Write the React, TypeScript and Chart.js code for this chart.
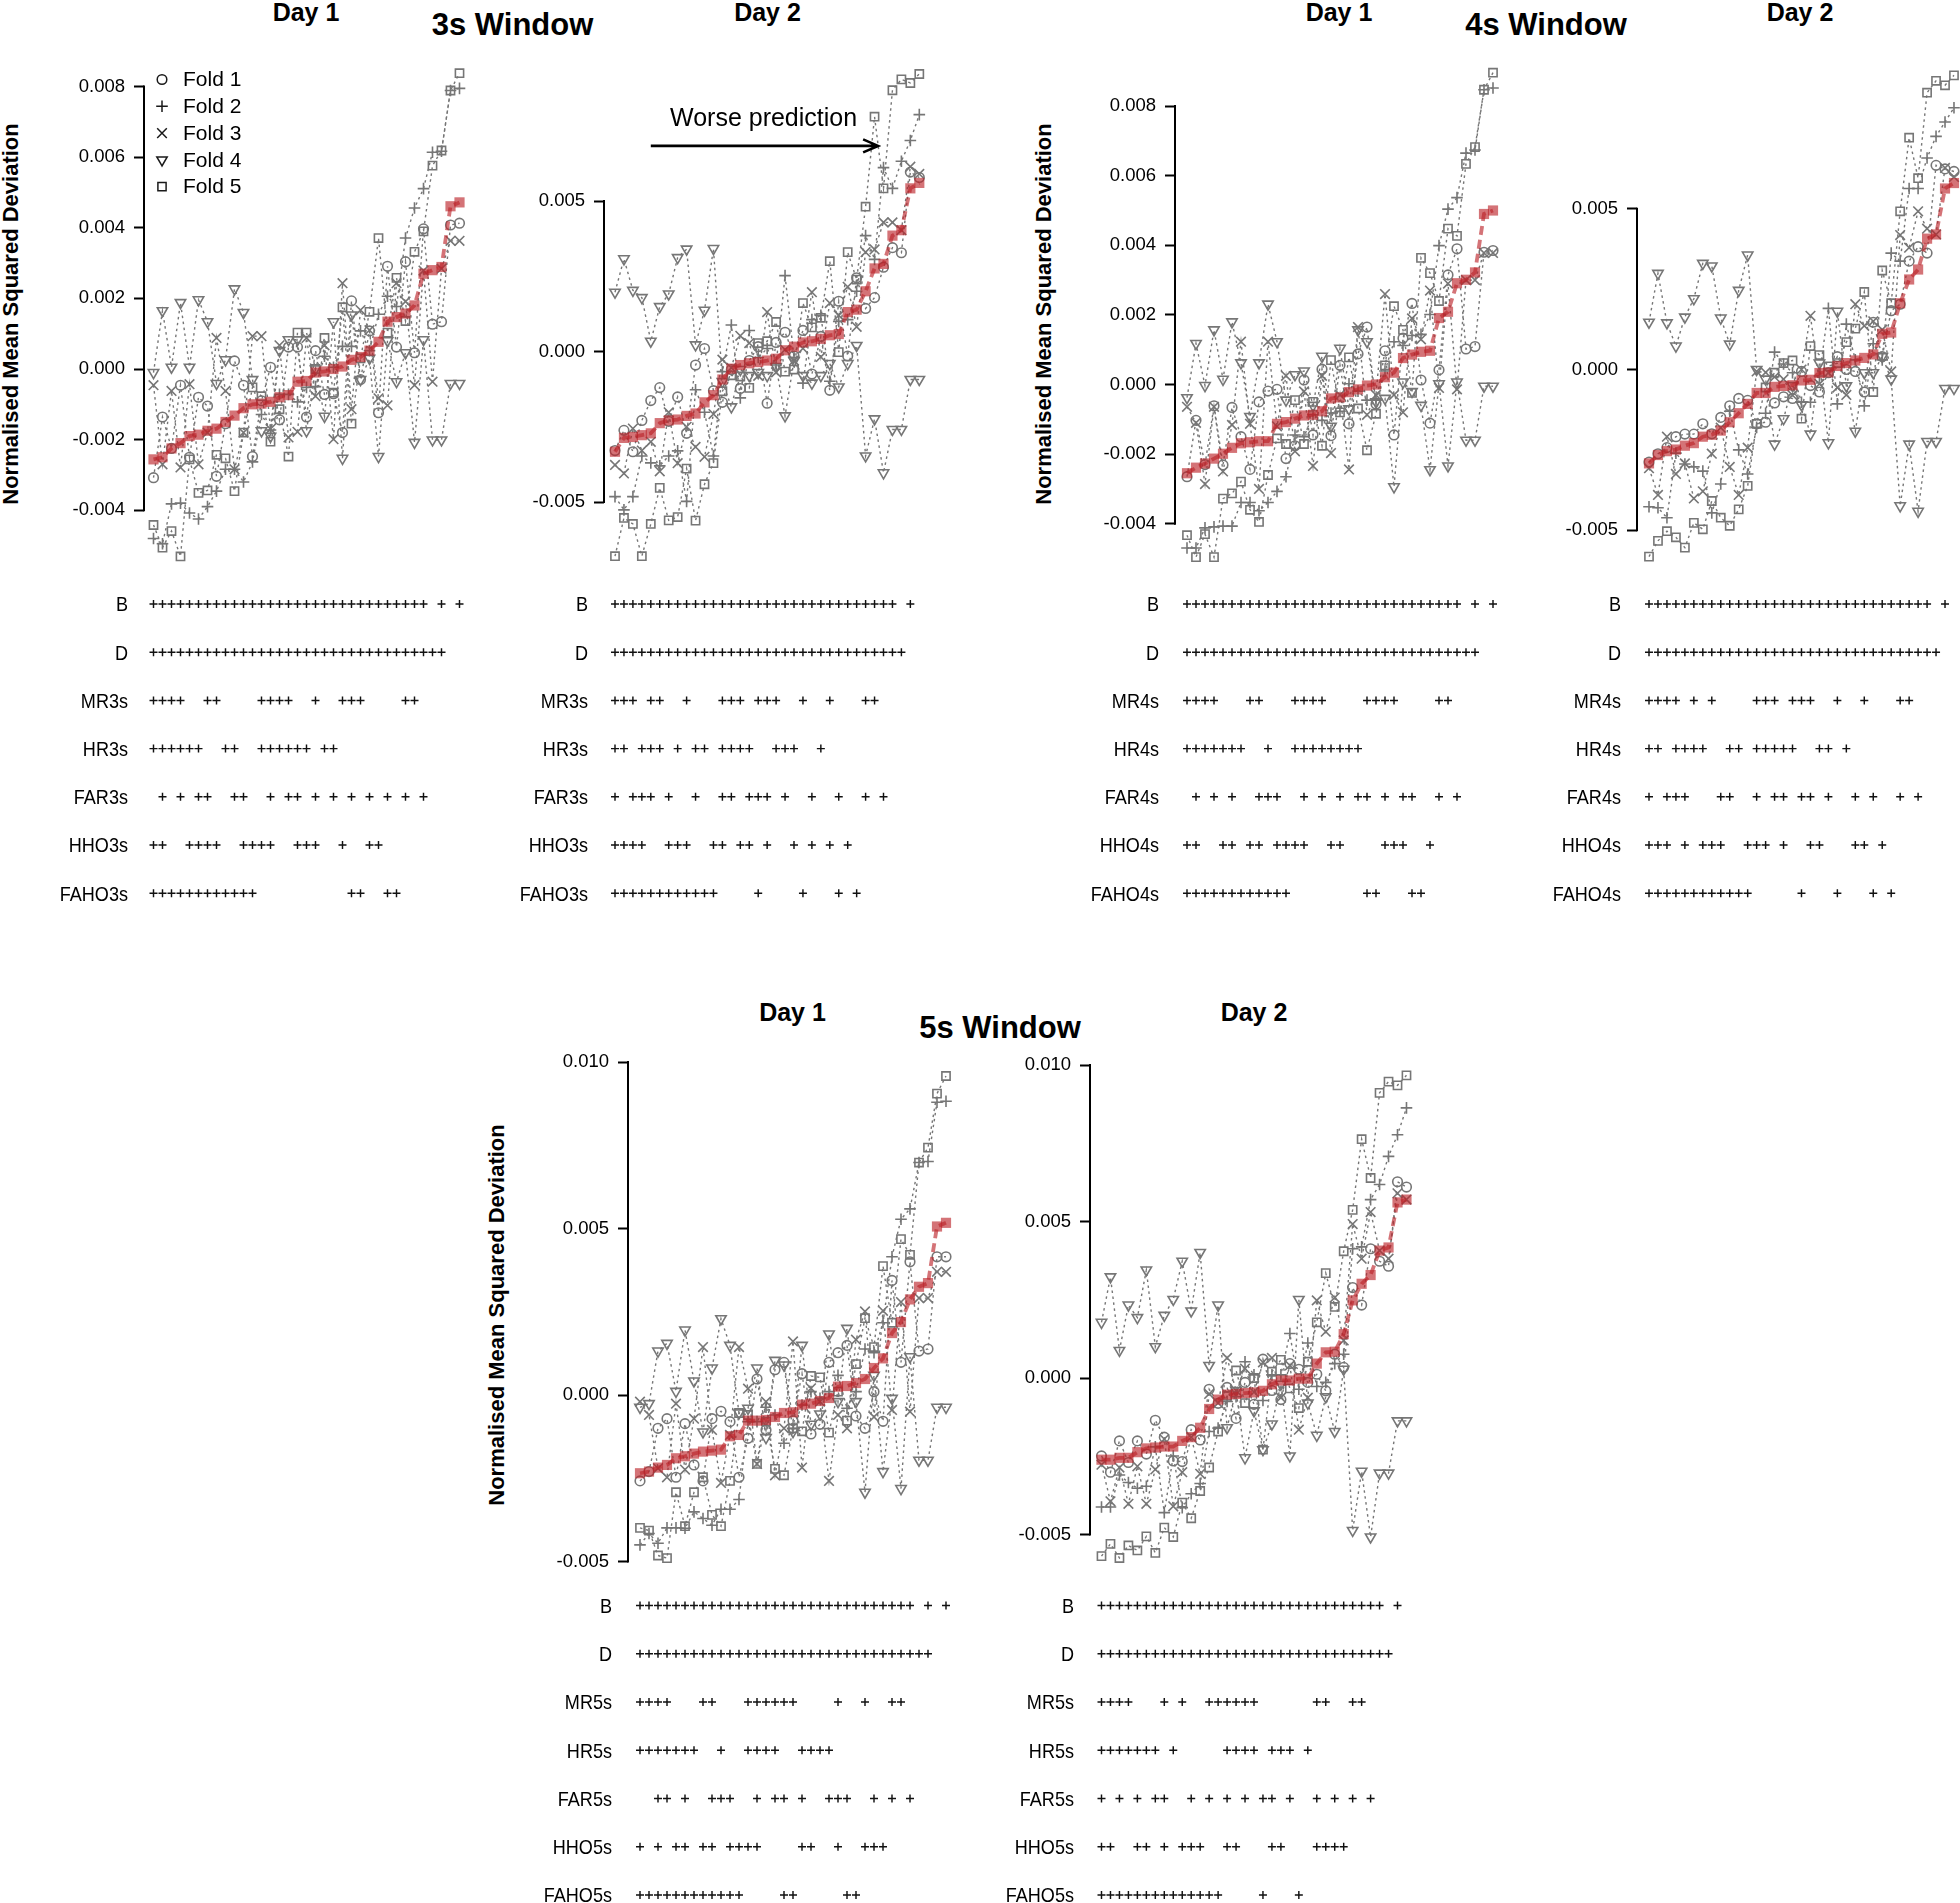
import React, { useEffect, useRef } from "react";
import { Chart, registerables } from "chart.js";
import { drawPoint } from "chart.js/helpers";

Chart.register(...registerables);

const FONT = '"Liberation Sans", Arial, Helvetica, sans-serif';
const GREY = "#767676";
const RED = "rgba(188, 36, 42, 0.64)";
const YW = 130;

// ---------------- x positions (model rank 0..34) ----------------
const MODEL_RANK = [0,1,2,3,4,5,6,7,8,9,10,11,12,13,14,15,16,17,18,19,20,21,22,23,24,25,26,27,28,29,30,31,32,33,34];
const FOLD_LABELS = ["Fold 1", "Fold 2", "Fold 3", "Fold 4", "Fold 5"];

// ---------------- 3s window, Day 1 ----------------
const W3D1_MEAN = [-0.00256,-0.0025,-0.00225,-0.0021,-0.0019,-0.00186,-0.00175,-0.00169,-0.0015,-0.00132,-0.00111,-0.001,-0.00098,-0.00093,-0.0008,-0.00074,-0.00036,-0.00034,-0.0001,-0.00007,0.0,0.00007,0.00026,0.00034,0.00052,0.00077,0.00134,0.00147,0.00157,0.0018,0.0027,0.0028,0.00289,0.00461,0.00472];
const W3D1_F1 = [-0.00308,-0.00136,-0.00225,-0.00046,-0.0025,-0.0008,-0.00105,-0.00304,-0.00155,0.00023,-0.00046,-0.00248,-0.0009,0.00005,-0.00144,0.00062,0.00062,-0.00136,0.00052,-0.00072,-0.0007,-0.0018,0.00193,-0.0003,0.00108,-0.00124,0.00291,0.00062,0.00304,0.00046,0.00397,0.00127,0.00134,0.00408,0.00413];
const W3D1_F2 = [-0.0048,-0.00495,-0.00382,-0.0038,-0.00408,-0.00425,-0.0039,-0.00346,-0.00284,-0.00284,-0.0032,-0.00263,-0.00129,-0.00173,-0.00072,-0.00072,-0.00093,-0.00052,-0.0005,0.00036,0.00005,0.00064,0.00064,0.00108,0.00052,0.00155,0.00206,0.00177,0.00371,0.00456,0.00511,0.00614,0.00617,0.00789,0.00795];
const W3D1_F3 = [-0.00046,-0.0027,-0.00062,-0.00279,-0.00043,-0.0027,-0.0018,0.00088,-0.00062,-0.00284,-0.0018,0.00093,0.00093,-0.0017,0.00067,-0.00194,-0.00178,0.00088,-0.00077,0.00067,-0.00199,0.00243,-0.00114,0.00167,0.0011,-0.00083,-0.00103,0.00243,0.00191,-0.00046,0.00279,-0.00036,0.00284,0.00363,0.00363];
const W3D1_F4 = [-0.0001,0.00165,0.00005,0.00188,0.00005,0.00196,0.00134,-0.00041,0.00026,0.00227,0.0016,-0.0003,-0.00175,-0.00191,0.00052,0.00083,0.00083,-0.00175,0.0,-0.00134,0.00134,-0.00253,0.00153,-0.0003,0.0003,-0.00248,0.0008,-0.00036,0.00046,-0.00208,0.00083,-0.00201,-0.00201,-0.00041,-0.00041];
const W3D1_F5 = [-0.00442,-0.00506,-0.00459,-0.00531,-0.00256,-0.00351,-0.00344,-0.00243,-0.00253,-0.00346,-0.0018,-0.00052,-0.00077,-0.00206,-0.00114,-0.00248,0.00103,0.00103,0.0,0.00088,-0.00067,0.00175,-0.00155,0.0003,0.00162,0.00371,0.00103,0.00258,0.00136,0.00332,0.0039,0.00576,0.00619,0.00789,0.00838];

// ---------------- 3s window, Day 2 ----------------
const W3D2_MEAN = [-0.00333,-0.00287,-0.00284,-0.00278,-0.00272,-0.00238,-0.00229,-0.00226,-0.00214,-0.00206,-0.00169,-0.00145,-0.00093,-0.00057,-0.00045,-0.00039,-0.00035,-0.0003,-0.00024,0.00004,0.00016,0.0003,0.00034,0.00042,0.00054,0.00058,0.00131,0.00139,0.002,0.00276,0.00291,0.00385,0.00403,0.00542,0.0056];
const W3D2_F1 = [-0.00329,-0.00262,-0.00333,-0.00229,-0.00163,-0.0012,-0.00232,-0.00151,-0.00272,-0.00045,0.0001,-0.0013,-0.00169,-0.0006,-0.00123,-0.0003,0.00016,-0.00172,0.0003,0.00064,-0.00015,0.0007,-0.00075,0.0005,-0.00129,0.00167,-0.00015,0.00245,0.00143,0.00179,0.0028,0.00345,0.00328,0.00596,0.00578];
const W3D2_F2 = [-0.00482,-0.00526,-0.00482,-0.00347,-0.0037,-0.0038,-0.00347,-0.0033,-0.00498,-0.00127,-0.00202,-0.00347,-0.00067,0.00088,-0.00154,0.0007,-0.0002,0.0001,-0.00045,0.00252,-0.0002,-0.00105,0.00106,0.0012,-0.00099,0.001,0.00106,0.002,0.00385,0.00306,0.00611,0.00542,0.00632,0.00701,0.00787];
const W3D2_F3 = [-0.00377,-0.00405,-0.00256,-0.00329,-0.003,-0.00398,-0.00202,-0.00371,-0.0025,-0.00317,-0.0035,-0.00208,-0.00027,-0.00054,0.00052,0.00028,-0.00081,0.00131,-0.00069,0.00006,-0.0003,0.0001,0.00197,-0.00018,0.00161,0.0012,0.00215,0.00082,0.0033,0.00339,0.00429,0.00429,0.00403,0.00614,0.0059];
const W3D2_F4 = [0.00197,0.00308,0.00203,0.00179,0.00034,0.00149,0.00191,0.00312,0.0034,0.00022,0.00137,0.00342,-0.001,-0.00184,-0.0006,-0.0008,-0.0007,-0.0008,-0.0005,-0.00214,-0.0003,-0.0008,-0.00105,-0.0008,-0.0004,-0.00118,-0.0004,0.0002,-0.00347,-0.00224,-0.00403,-0.00259,-0.00259,-0.00093,-0.00093];
const W3D2_F5 = [-0.0068,-0.00553,-0.00573,-0.0068,-0.00573,-0.00453,-0.00561,-0.0055,-0.00389,-0.00562,-0.00441,-0.00371,-0.00132,-0.00079,-0.00083,-0.00121,0.00028,0.00034,0.00098,-0.00067,-0.0006,0.00161,0.0008,0.00112,0.003,-0.00002,0.0033,0.00239,0.00481,0.0078,0.00542,0.00868,0.00904,0.00892,0.00922];

// ---------------- 4s window, Day 1 ----------------
const W4D1_MEAN = [-0.00255,-0.00239,-0.00227,-0.00213,-0.00199,-0.00182,-0.00169,-0.00166,-0.00163,-0.00163,-0.00113,-0.00108,-0.00098,-0.00089,-0.00087,-0.00077,-0.0004,-0.00037,-0.00022,-0.00014,-0.00003,0.0,0.00021,0.00034,0.00076,0.00086,0.00094,0.00097,0.00191,0.00209,0.00291,0.00301,0.00322,0.0049,0.005];
const W4D1_F1 = [-0.00265,-0.00103,-0.0023,-0.00061,-0.00231,-0.00066,-0.0015,-0.00244,-0.0005,-0.00019,-0.00014,-0.00213,-0.00176,0.00013,-0.00145,0.00044,-0.00147,0.00055,-0.00113,0.00088,0.00165,-0.00056,0.00097,-0.00145,0.00133,0.00233,0.00013,-0.00111,0.00042,0.00315,0.0039,0.00102,0.00109,0.0038,0.00385];
const W4D1_F2 = [-0.0047,-0.0047,-0.00412,-0.00409,-0.00407,-0.00407,-0.00339,-0.00339,-0.00363,-0.00339,-0.00307,-0.00265,-0.00145,-0.0015,-0.00087,-0.00103,-0.00082,-0.00077,0.00002,-0.00019,-0.00045,-0.00045,0.00039,0.00123,0.00112,0.00141,0.00144,0.00201,0.00399,0.00504,0.00537,0.00665,0.00674,0.00847,0.00852];
const W4D1_F3 = [-0.00064,-0.0011,-0.00286,-0.00064,-0.0025,-0.00116,0.00123,-0.00113,-0.003,0.00123,-0.0012,0.00025,-0.00192,-0.0002,-0.00234,0.00025,-0.00197,-0.0003,-0.00244,0.00165,-0.00087,-0.0003,0.0026,-0.0003,-0.0008,0.0019,0.0013,0.0027,-0.0001,0.0029,-0.00014,0.003,0.003,0.00378,0.00378];
const W4D1_F4 = [-0.00038,0.00118,-0.00003,0.00157,0.00015,0.0018,0.00062,-0.00092,0.00062,0.00231,0.00123,-0.00045,0.00028,0.00039,-0.0006,0.00081,-0.0012,0.00104,-0.0007,0.00157,0.00123,-0.0005,-0.0004,-0.00294,0.00007,-0.0002,-0.0006,-0.00245,0.00002,-0.00234,0.00007,-0.0016,-0.0016,-0.00005,-0.00005];
const W4D1_F5 = [-0.00433,-0.00496,-0.0043,-0.00496,-0.00328,-0.00313,-0.00279,-0.0036,-0.00395,-0.0026,-0.00155,-0.00171,-0.00045,-0.00171,-0.0005,-0.00176,0.0007,-0.0008,0.00078,-0.00069,-0.00189,-0.00084,0.00055,0.00225,0.00157,-0.00024,0.00364,0.0032,0.0024,0.00448,0.00427,0.00634,0.00682,0.00847,0.00896];

// ---------------- 4s window, Day 2 ----------------
const W4D2_MEAN = [-0.00292,-0.00266,-0.00254,-0.00249,-0.00237,-0.00229,-0.00209,-0.00203,-0.0019,-0.00164,-0.00136,-0.00107,-0.00073,-0.00073,-0.00054,-0.00051,-0.00049,-0.00034,-0.00032,-0.00011,-0.00009,0.00011,0.0002,0.00028,0.00036,0.00047,0.00111,0.00115,0.00206,0.0028,0.00311,0.00407,0.0042,0.00563,0.0058];
const W4D2_F1 = [-0.00288,-0.00262,-0.00243,-0.00209,-0.00201,-0.00201,-0.00169,-0.002,-0.00149,-0.00113,-0.0009,-0.00096,-0.00169,-0.00164,-0.00104,-0.00085,-0.0009,-0.00006,-0.0005,-0.0007,-0.0001,0.0004,0.0,-0.00006,-0.0007,0.00147,0.0004,0.00183,0.00203,0.00337,0.00382,0.00362,0.00635,0.00624,0.00616];
const W4D2_F2 = [-0.00427,-0.0043,-0.00461,-0.0026,-0.00294,-0.00303,-0.00316,-0.00446,-0.00356,-0.0013,-0.0025,-0.00325,-0.0018,-0.00136,0.00054,0.00017,-0.0001,-0.00102,-0.00102,-0.0002,0.0019,-0.00107,0.00141,0.0003,-0.00113,0.0008,0.0003,0.00362,0.00337,0.00563,0.00563,0.00658,0.00725,0.0077,0.00814];
const W4D2_F3 = [-0.00307,-0.0039,-0.00209,-0.00325,-0.00292,-0.00401,-0.00379,-0.00262,-0.00181,-0.00303,-0.0039,-0.00243,-0.00006,-0.00009,-0.00023,-0.0003,-0.0008,0.0,0.00167,-0.00045,-0.0001,-0.00056,-0.00079,0.00203,0.00136,0.0015,0.00124,-0.00006,0.00418,0.00379,0.00492,0.00438,0.0042,0.00627,0.00599];
const W4D2_F4 = [0.00147,0.00299,0.00145,0.00073,0.00163,0.0022,0.0033,0.00322,0.0016,0.00079,0.00246,0.00356,0.0,-0.0003,-0.00232,-0.00153,-0.0005,-0.0011,-0.00201,0.0002,-0.00228,0.00181,-0.00051,-0.00192,-0.0001,-0.0001,0.0004,-0.0003,-0.00424,-0.00232,-0.00441,-0.00224,-0.00224,-0.00059,-0.00059];
const W4D2_F5 = [-0.00582,-0.00533,-0.00503,-0.00522,-0.00554,-0.00477,-0.00497,-0.00409,-0.00461,-0.00486,-0.00435,-0.00362,-0.00169,-0.00056,-0.0001,0.0002,0.00028,-0.00153,0.00073,0.00045,0.0001,0.0002,0.00085,0.00127,0.00241,-0.0007,0.00308,0.00206,0.00492,0.00721,0.00595,0.00861,0.00898,0.00884,0.00915];

// ---------------- 5s window, Day 1 ----------------
const W5D1_MEAN = [-0.00235,-0.0023,-0.00218,-0.0021,-0.0019,-0.00184,-0.00176,-0.0017,-0.00167,-0.00164,-0.00124,-0.0012,-0.00077,-0.00077,-0.00075,-0.00066,-0.00054,-0.00052,-0.00029,-0.00026,-0.00018,-0.00009,0.00025,0.00027,0.00036,0.00048,0.00081,0.0011,0.00186,0.00219,0.00287,0.00325,0.00336,0.00506,0.00517];
const W5D1_F1 = [-0.00258,-0.0023,-0.001,-0.00071,-0.00247,-0.00086,-0.0021,-0.00258,-0.00071,-0.00049,-0.0008,-0.00247,-0.0013,0.00048,-0.00105,0.00076,0.00098,-0.00077,0.00064,-0.00117,-0.00088,0.00098,0.00127,0.00149,-0.00063,-0.001,0.0001,-0.00079,0.00344,0.00098,0.004,0.00132,0.00138,0.00415,0.00415];
const W5D1_F2 = [-0.0045,-0.00416,-0.00445,-0.00399,-0.00399,-0.004,-0.00351,-0.00371,-0.00391,-0.00343,-0.00343,-0.00314,-0.0008,-0.0008,-0.00037,-0.0006,-0.00145,-0.001,-0.0003,0.0001,-0.0001,0.0001,0.00059,-0.0004,0.0001,0.00138,0.00127,0.00217,0.00415,0.00528,0.00559,0.00698,0.00701,0.00879,0.00882];
const W5D1_F3 = [-0.0002,-0.0006,-0.0022,-0.00247,-0.00026,-0.00224,-0.00071,0.00144,-0.00105,-0.00264,-0.0012,0.00144,0.00019,-0.00207,-0.0002,-0.00241,-0.001,0.00161,-0.00218,0.0002,-0.0002,-0.00258,-0.0006,-0.001,0.00166,0.00251,-0.00066,0.00253,-0.00045,0.00279,-0.0005,0.00291,0.00291,0.0037,0.0037];
const W5D1_F4 = [-0.00037,-0.00026,0.00132,0.00155,0.00011,0.00195,0.00042,-0.00111,0.00081,0.00229,0.00149,-0.00054,-0.0004,0.00081,-0.00128,0.00104,0.0009,-0.0011,0.00149,-0.00088,-0.00057,0.00183,-0.0002,0.002,-0.0002,-0.00292,0.00059,-0.0023,-0.0001,-0.00281,0.00115,-0.00196,-0.00196,-0.00037,-0.00037];
const W5D1_F5 = [-0.00399,-0.00407,-0.00482,-0.0049,-0.00292,-0.00394,-0.00292,-0.00247,-0.0036,-0.00394,-0.00258,-0.00054,-0.0006,-0.00207,-0.0008,-0.00222,-0.00241,-0.001,-0.00109,0.00057,0.00053,-0.00113,0.0001,-0.00077,0.00093,0.00231,0.00144,0.00387,0.00217,0.00468,0.00421,0.00698,0.00743,0.00905,0.00958];

// ---------------- 5s window, Day 2 ----------------
const W5D2_MEAN = [-0.00261,-0.00261,-0.00255,-0.00255,-0.00237,-0.00225,-0.00222,-0.00219,-0.00219,-0.00201,-0.00189,-0.00159,-0.00099,-0.00069,-0.00053,-0.00051,-0.00048,-0.00046,-0.00041,-0.0002,-0.00008,-0.00008,-0.00002,-0.00002,0.00046,0.00082,0.00084,0.0014,0.00248,0.00301,0.00329,0.00407,0.00417,0.00561,0.0057];
const W5D2_F1 = [-0.00249,-0.00301,-0.00201,-0.0027,-0.00201,-0.00243,-0.00135,-0.00189,-0.00265,-0.00267,-0.00165,-0.00198,-0.00036,-0.00081,-0.0003,-0.00129,-0.00014,-0.00084,0.0006,-0.0004,-0.00069,0.00046,0.00028,-0.00014,0.00012,-0.00041,0.00076,0.00034,0.00289,0.00233,0.00413,0.00373,0.00357,0.00627,0.0061];
const W5D2_F2 = [-0.00412,-0.00412,-0.0031,-0.00334,-0.00352,-0.00346,-0.0022,-0.0043,-0.00249,-0.00414,-0.0037,-0.00337,-0.00171,-0.0016,-0.00075,-0.0006,0.00052,0.0001,-0.00072,0.0001,0.0001,0.00142,-0.00036,0.00112,-0.00027,-0.00014,0.00046,0.00076,0.00413,0.00419,0.0057,0.00618,0.00708,0.00777,0.00863];
const W5D2_F3 = [-0.00277,-0.00394,-0.00286,-0.00402,-0.00282,-0.00402,-0.00292,-0.00195,-0.0041,-0.00301,-0.00189,-0.00306,-0.00051,-0.0008,0.00064,-0.0004,0.0003,-0.00045,0.0005,0.00064,-0.00063,0.0004,-0.00165,-0.00063,0.00248,0.00148,0.00257,0.0012,0.00492,0.00381,0.0053,0.00407,0.00381,0.0059,0.0057];
const W5D2_F4 = [0.00178,0.00323,0.00088,0.00233,0.00193,0.00345,0.001,0.002,0.00251,0.00373,0.00214,0.00401,0.0004,0.00233,-0.00159,-0.0004,-0.00255,-0.00105,-0.00229,-0.00147,-0.0002,-0.00249,0.00251,-0.0008,-0.00183,-0.0006,-0.00171,0.00028,-0.00487,-0.00298,-0.00508,-0.00304,-0.00304,-0.00137,-0.00137];
const W5D2_F5 = [-0.00569,-0.0053,-0.00575,-0.00535,-0.00551,-0.00506,-0.00559,-0.00478,-0.00508,-0.00398,-0.00448,-0.00361,-0.00286,-0.00171,-0.00057,0.00024,-0.0008,0.0,-0.00229,0.0002,0.00058,-0.00033,-0.00096,0.00052,0.00178,0.00335,0.00227,0.00405,0.00537,0.00763,0.00639,0.00911,0.00947,0.00935,0.00967];

// ---------------- tick values ----------------
const TICKS_W3D1 = [-0.004, -0.002, 0.0, 0.002, 0.004, 0.006, 0.008];
const TICKS_W3D2 = [-0.005, 0.0, 0.005];
const TICKS_W4D1 = [-0.004, -0.002, 0.0, 0.002, 0.004, 0.006, 0.008];
const TICKS_W4D2 = [-0.005, 0.0, 0.005];
const TICKS_W5D1 = [-0.005, 0.0, 0.005, 0.01];
const TICKS_W5D2 = [-0.005, 0.0, 0.005, 0.01];

// ---------------- feature tables (model ranks that include the feature) ----------------
const TAB_B_DAY1 = [0,1,2,3,4,5,6,7,8,9,10,11,12,13,14,15,16,17,18,19,20,21,22,23,24,25,26,27,28,29,30,32,34];
const TAB_B_DAY2 = [0,1,2,3,4,5,6,7,8,9,10,11,12,13,14,15,16,17,18,19,20,21,22,23,24,25,26,27,28,29,30,31,33];
const TAB_D = [0,1,2,3,4,5,6,7,8,9,10,11,12,13,14,15,16,17,18,19,20,21,22,23,24,25,26,27,28,29,30,31,32];

const W3D1_MR = [0,1,2,3,6,7,12,13,14,15,18,21,22,23,28,29];
const W3D1_HR = [0,1,2,3,4,5,8,9,12,13,14,15,16,17,19,20];
const W3D1_FAR = [1,3,5,6,9,10,13,15,16,18,20,22,24,26,28,30];
const W3D1_HHO = [0,1,4,5,6,7,10,11,12,13,16,17,18,21,24,25];
const W3D1_FAHO = [0,1,2,3,4,5,6,7,8,9,10,11,22,23,26,27];

const W3D2_MR = [0,1,2,4,5,8,12,13,14,16,17,18,21,24,28,29];
const W3D2_HR = [0,1,3,4,5,7,9,10,12,13,14,15,18,19,20,23];
const W3D2_FAR = [0,2,3,4,6,9,12,13,15,16,17,19,22,25,28,30];
const W3D2_HHO = [0,1,2,3,6,7,8,11,12,14,15,17,20,22,24,26];
const W3D2_FAHO = [0,1,2,3,4,5,6,7,8,9,10,11,16,21,25,27];

const W4D1_MR = [0,1,2,3,7,8,12,13,14,15,20,21,22,23,28,29];
const W4D1_HR = [0,1,2,3,4,5,6,9,12,13,14,15,16,17,18,19];
const W4D1_FAR = [1,3,5,8,9,10,13,15,17,19,20,22,24,25,28,30];
const W4D1_HHO = [0,1,4,5,7,8,10,11,12,13,16,17,22,23,24,27];
const W4D1_FAHO = [0,1,2,3,4,5,6,7,8,9,10,11,20,21,25,26];

const W4D2_MR = [0,1,2,3,5,7,12,13,14,16,17,18,21,24,28,29];
const W4D2_HR = [0,1,3,4,5,6,9,10,12,13,14,15,16,19,20,22];
const W4D2_FAR = [0,2,3,4,8,9,12,14,15,17,18,20,23,25,28,30];
const W4D2_HHO = [0,1,2,4,6,7,8,11,12,13,15,18,19,23,24,26];
const W4D2_FAHO = [0,1,2,3,4,5,6,7,8,9,10,11,17,21,25,27];

const W5D1_MR = [0,1,2,3,7,8,12,13,14,15,16,17,22,25,28,29];
const W5D1_HR = [0,1,2,3,4,5,6,9,12,13,14,15,18,19,20,21];
const W5D1_FAR = [2,3,5,8,9,10,13,15,16,18,21,22,23,26,28,30];
const W5D1_HHO = [0,2,4,5,7,8,10,11,12,13,18,19,22,25,26,27];
const W5D1_FAHO = [0,1,2,3,4,5,6,7,8,9,10,11,16,17,23,24];

const W5D2_MR = [0,1,2,3,7,9,12,13,14,15,16,17,24,25,28,29];
const W5D2_HR = [0,1,2,3,4,5,6,8,14,15,16,17,19,20,21,23];
const W5D2_FAR = [0,2,4,6,7,10,12,14,16,18,19,21,24,26,28,30];
const W5D2_HHO = [0,1,4,5,7,9,10,11,14,15,19,20,24,25,26,27];
const W5D2_FAHO = [0,1,2,3,4,5,6,7,8,9,10,11,12,13,18,22];

const ROWS_3S = ["B", "D", "MR3s", "HR3s", "FAR3s", "HHO3s", "FAHO3s"];
const ROWS_4S = ["B", "D", "MR4s", "HR4s", "FAR4s", "HHO4s", "FAHO4s"];
const ROWS_5S = ["B", "D", "MR5s", "HR5s", "FAR5s", "HHO5s", "FAHO5s"];

// ---------------- layout (pixels) ----------------
type PanelSpec = {
  mean: number[]; folds: number[][]; ticks: number[];
  rowLabels: string[]; rows: number[][];
  axisX: number; x0: number; dx: number; zeroY: number; ppu: number;
  top: number; bottom: number; tabTop: number; tabBottom: number; rowY0: number; rowDy: number;
  legend?: boolean; arrow?: boolean;
};

const PANELS: PanelSpec[] = [
  { mean: W3D1_MEAN, folds: [W3D1_F1, W3D1_F2, W3D1_F3, W3D1_F4, W3D1_F5], ticks: TICKS_W3D1,
    rowLabels: ROWS_3S, rows: [TAB_B_DAY1, TAB_D, W3D1_MR, W3D1_HR, W3D1_FAR, W3D1_HHO, W3D1_FAHO],
    axisX: 144, x0: 153.5, dx: 9.0, zeroY: 369, ppu: 35.3, top: 40, bottom: 576, tabTop: 580, tabBottom: 912, rowY0: 604, rowDy: 48.2, legend: true },
  { mean: W3D2_MEAN, folds: [W3D2_F1, W3D2_F2, W3D2_F3, W3D2_F4, W3D2_F5], ticks: TICKS_W3D2,
    rowLabels: ROWS_3S, rows: [TAB_B_DAY2, TAB_D, W3D2_MR, W3D2_HR, W3D2_FAR, W3D2_HHO, W3D2_FAHO],
    axisX: 604, x0: 615, dx: 8.95, zeroY: 351.5, ppu: 30.1, top: 40, bottom: 576, tabTop: 580, tabBottom: 912, rowY0: 604, rowDy: 48.2, arrow: true },
  { mean: W4D1_MEAN, folds: [W4D1_F1, W4D1_F2, W4D1_F3, W4D1_F4, W4D1_F5], ticks: TICKS_W4D1,
    rowLabels: ROWS_4S, rows: [TAB_B_DAY1, TAB_D, W4D1_MR, W4D1_HR, W4D1_FAR, W4D1_HHO, W4D1_FAHO],
    axisX: 1175, x0: 1187, dx: 9.0, zeroY: 384.5, ppu: 34.8, top: 40, bottom: 576, tabTop: 580, tabBottom: 912, rowY0: 604, rowDy: 48.2 },
  { mean: W4D2_MEAN, folds: [W4D2_F1, W4D2_F2, W4D2_F3, W4D2_F4, W4D2_F5], ticks: TICKS_W4D2,
    rowLabels: ROWS_4S, rows: [TAB_B_DAY2, TAB_D, W4D2_MR, W4D2_HR, W4D2_FAR, W4D2_HHO, W4D2_FAHO],
    axisX: 1637, x0: 1649, dx: 8.97, zeroY: 369.5, ppu: 32.15, top: 40, bottom: 576, tabTop: 580, tabBottom: 912, rowY0: 604, rowDy: 48.2 },
  { mean: W5D1_MEAN, folds: [W5D1_F1, W5D1_F2, W5D1_F3, W5D1_F4, W5D1_F5], ticks: TICKS_W5D1,
    rowLabels: ROWS_5S, rows: [TAB_B_DAY1, TAB_D, W5D1_MR, W5D1_HR, W5D1_FAR, W5D1_HHO, W5D1_FAHO],
    axisX: 628, x0: 640, dx: 9.0, zeroY: 1395, ppu: 33.3, top: 1040, bottom: 1576, tabTop: 1580, tabBottom: 1903, rowY0: 1605.5, rowDy: 48.25 },
  { mean: W5D2_MEAN, folds: [W5D2_F1, W5D2_F2, W5D2_F3, W5D2_F4, W5D2_F5], ticks: TICKS_W5D2,
    rowLabels: ROWS_5S, rows: [TAB_B_DAY2, TAB_D, W5D2_MR, W5D2_HR, W5D2_FAR, W5D2_HHO, W5D2_FAHO],
    axisX: 1090, x0: 1101.5, dx: 8.97, zeroY: 1378, ppu: 31.3, top: 1040, bottom: 1576, tabTop: 1580, tabBottom: 1903, rowY0: 1605.5, rowDy: 48.25 },
];

const FOLD_STYLES = [
  { pointStyle: "circle", radius: 4.8, rotation: 0 },
  { pointStyle: "cross", radius: 5.8, rotation: 0 },
  { pointStyle: "crossRot", radius: 6.8, rotation: 0 },
  { pointStyle: "triangle", radius: 6.0, rotation: 180 },
  { pointStyle: "rect", radius: 5.8, rotation: 0 },
];

// R-style axis line spanning first..last tick
const rAxisPlugin = {
  id: "rAxis",
  afterDraw(chart: any, _a: any, opts: any) {
    if (!opts || !opts.ticks) return;
    const ys = chart.scales.y;
    const x = chart.chartArea.left;
    const ctx = chart.ctx;
    ctx.save();
    ctx.strokeStyle = "#000";
    ctx.lineWidth = 2;
    ctx.beginPath();
    ctx.moveTo(x, ys.getPixelForValue(opts.ticks[0]) + 1);
    ctx.lineTo(x, ys.getPixelForValue(opts.ticks[opts.ticks.length - 1]) - 1);
    ctx.stroke();
    ctx.restore();
  },
};

const foldLegendPlugin = {
  id: "foldLegend",
  afterDatasetsDraw(chart: any, _a: any, opts: any) {
    if (!opts || !opts.show) return;
    const ctx = chart.ctx;
    ctx.save();
    FOLD_LABELS.forEach((lab, k) => {
      const y = opts.y0 + k * opts.dy;
      const st = FOLD_STYLES[k];
      ctx.strokeStyle = "#1a1a1a";
      ctx.fillStyle = "rgba(0,0,0,0)";
      ctx.lineWidth = 1.5;
      drawPoint(ctx, { pointStyle: st.pointStyle, radius: st.radius, rotation: st.rotation, borderWidth: 1.5 } as any, opts.symX, y);
      ctx.fillStyle = "#000";
      ctx.font = `21px ${FONT}`;
      ctx.textAlign = "left";
      ctx.textBaseline = "middle";
      ctx.fillText(lab, opts.textX, y + 1);
    });
    ctx.restore();
  },
};

const arrowNotePlugin = {
  id: "arrowNote",
  afterDatasetsDraw(chart: any, _a: any, opts: any) {
    if (!opts || !opts.show) return;
    const xs = chart.scales.x, ys = chart.scales.y, ctx = chart.ctx;
    const x1 = xs.getPixelForValue(opts.from), x2 = xs.getPixelForValue(opts.to), y = ys.getPixelForValue(opts.y);
    ctx.save();
    ctx.strokeStyle = "#000";
    ctx.lineWidth = 2.6;
    ctx.beginPath();
    ctx.moveTo(x1, y);
    ctx.lineTo(x2, y);
    ctx.moveTo(x2 - 15, y - 6.5);
    ctx.lineTo(x2, y);
    ctx.lineTo(x2 - 15, y + 6.5);
    ctx.stroke();
    ctx.fillStyle = "#000";
    ctx.font = `25px ${FONT}`;
    ctx.textAlign = "center";
    ctx.textBaseline = "middle";
    ctx.fillText(opts.text, xs.getPixelForValue(opts.textX), ys.getPixelForValue(opts.textY));
    ctx.restore();
  },
};

function Panel({ p }: { p: PanelSpec }) {
  const plotRef = useRef<HTMLCanvasElement>(null);
  const tabRef = useRef<HTMLCanvasElement>(null);
  const plotW = Math.round(2 * (p.x0 - p.axisX) + 34 * p.dx);
  const cw = YW + plotW;
  const left = p.axisX - YW;
  const plotH = p.bottom - p.top;
  const tabH = p.tabBottom - p.tabTop;

  useEffect(() => {
    const xmin = -(p.x0 - p.axisX) / p.dx;
    const xmax = xmin + plotW / p.dx;
    const ymax = (p.zeroY - p.top) / p.ppu / 1000;
    const ymin = -(p.bottom - p.zeroY) / p.ppu / 1000;

    const datasets: any[] = [
      {
        label: "Mean",
        data: p.mean.map((v, i) => ({ x: MODEL_RANK[i], y: v })),
        borderColor: RED, borderWidth: 3.8, borderDash: [9, 5],
        pointStyle: "rect", pointRadius: 7.2, pointBackgroundColor: RED, pointBorderWidth: 0,
        tension: 0, fill: false, clip: false,
      },
      ...p.folds.map((f, k) => ({
        label: FOLD_LABELS[k],
        data: f.map((v, i) => ({ x: MODEL_RANK[i], y: v })),
        borderColor: GREY, borderWidth: 1.4, borderDash: [2.5, 3.5],
        pointStyle: FOLD_STYLES[k].pointStyle, pointRadius: FOLD_STYLES[k].radius,
        pointRotation: FOLD_STYLES[k].rotation,
        pointBorderColor: GREY, pointBackgroundColor: "rgba(0,0,0,0)", pointBorderWidth: 1.6,
        tension: 0, fill: false, clip: false,
      })),
    ];

    const plot = new Chart(plotRef.current as HTMLCanvasElement, {
      type: "line",
      data: { datasets },
      options: {
        animation: false, responsive: false, events: [],
        layout: { padding: 0, autoPadding: false },
        plugins: {
          legend: { display: false }, tooltip: { enabled: false },
          rAxis: { ticks: p.ticks },
          foldLegend: { show: !!p.legend, symX: 162 - left, textX: 183 - left, y0: 79.5 - p.top, dy: 26.8 },
          arrowNote: { show: !!p.arrow, from: 4.0, to: 29.4, y: 0.00683, text: "Worse prediction", textX: 16.6, textY: 0.00772 },
        } as any,
        scales: {
          x: { type: "linear", min: xmin, max: xmax, display: false },
          y: {
            type: "linear", min: ymin, max: ymax,
            afterBuildTicks: (s: any) => { s.ticks = p.ticks.map((v) => ({ value: v })); },
            afterFit: (s: any) => { s.width = YW; s.paddingTop = 0; s.paddingBottom = 0; },
            ticks: {
              autoSkip: false, padding: 9, color: "#000",
              font: { family: FONT, size: 18.5 },
              callback: (v: any) => Number(v).toFixed(3),
            },
            grid: { drawOnChartArea: false, drawTicks: true, tickLength: 10, tickWidth: 2, tickColor: "#000" },
            border: { display: false },
          },
        },
      } as any,
      plugins: [rAxisPlugin, foldLegendPlugin, arrowNotePlugin],
    });

    const tyMin = -(p.rowY0 - p.tabTop) / p.rowDy;
    const tyMax = tyMin + tabH / p.rowDy;
    const tab = new Chart(tabRef.current as HTMLCanvasElement, {
      type: "scatter",
      data: {
        datasets: p.rows.map((cols, k) => ({
          label: p.rowLabels[k],
          data: cols.map((c) => ({ x: c, y: k })),
          pointStyle: "cross", pointRadius: 4.0, pointBorderColor: "#111", pointBorderWidth: 1.45,
          showLine: false, clip: false,
        })),
      },
      options: {
        animation: false, responsive: false, events: [],
        layout: { padding: { left: YW, right: 0, top: 0, bottom: 0 }, autoPadding: false },
        plugins: { legend: { display: false }, tooltip: { enabled: false } },
        scales: {
          x: { type: "linear", min: xmin, max: xmax, display: false },
          y: { type: "linear", min: tyMin, max: tyMax, reverse: true, display: false },
        },
      } as any,
    });

    return () => { plot.destroy(); tab.destroy(); };
  }, []);

  return (
    <>
      <canvas ref={plotRef} width={cw} height={plotH}
        style={{ position: "absolute", left, top: p.top, width: cw, height: plotH }} />
      <canvas ref={tabRef} width={cw} height={tabH}
        style={{ position: "absolute", left, top: p.tabTop, width: cw, height: tabH }} />
      {p.rowLabels.map((lab, k) => (
        <div key={k} style={{
          position: "absolute", left: p.axisX - 16 - 200, width: 200, textAlign: "right",
          top: p.rowY0 + k * p.rowDy - 12.6, height: 25.2, lineHeight: "25.2px",
          fontFamily: FONT, fontSize: 21, color: "#000", whiteSpace: "nowrap",
          transform: "scaleX(0.86)", transformOrigin: "right center",
        }}>{lab}</div>
      ))}
    </>
  );
}

function Txt({ x, baseline, size, bold, children }: any) {
  return (
    <div style={{
      position: "absolute", left: x, top: baseline - 0.8465 * size, transform: "translateX(-50%)",
      fontFamily: FONT, fontSize: size, lineHeight: `${size}px`, fontWeight: bold ? 700 : 400,
      whiteSpace: "nowrap", color: "#000",
    }}>{children}</div>
  );
}

function YTitle({ cx, cy }: { cx: number; cy: number }) {
  const fs = 22;
  return (
    <div style={{
      position: "absolute", left: cx - 300, top: cy - fs / 2, width: 600, height: fs,
      lineHeight: `${fs}px`, textAlign: "center", transform: "rotate(-90deg)",
      fontFamily: FONT, fontSize: fs, fontWeight: 700, whiteSpace: "nowrap", color: "#000",
    }}>Normalised Mean Squared Deviation</div>
  );
}

export default function App() {
  useEffect(() => {
    document.body.style.margin = "0";
    document.body.style.background = "#fff";
  }, []);
  return (
    <div style={{ position: "absolute", left: 0, top: 0, width: 1960, height: 1903, overflow: "hidden", background: "#fff" }}>
      <Txt x={306} baseline={21} size={25} bold>Day 1</Txt>
      <Txt x={512.5} baseline={35} size={31} bold>3s Window</Txt>
      <Txt x={767.5} baseline={21} size={25} bold>Day 2</Txt>
      <Txt x={1339} baseline={21} size={25} bold>Day 1</Txt>
      <Txt x={1546} baseline={35} size={31} bold>4s Window</Txt>
      <Txt x={1800} baseline={21} size={25} bold>Day 2</Txt>
      <Txt x={792.5} baseline={1021} size={25} bold>Day 1</Txt>
      <Txt x={1000} baseline={1038} size={31} bold>5s Window</Txt>
      <Txt x={1254} baseline={1021} size={25} bold>Day 2</Txt>
      <YTitle cx={10.5} cy={313.5} />
      <YTitle cx={1043.5} cy={313.5} />
      <YTitle cx={497} cy={1315} />
      {PANELS.map((p, i) => <Panel key={i} p={p} />)}
    </div>
  );
}
